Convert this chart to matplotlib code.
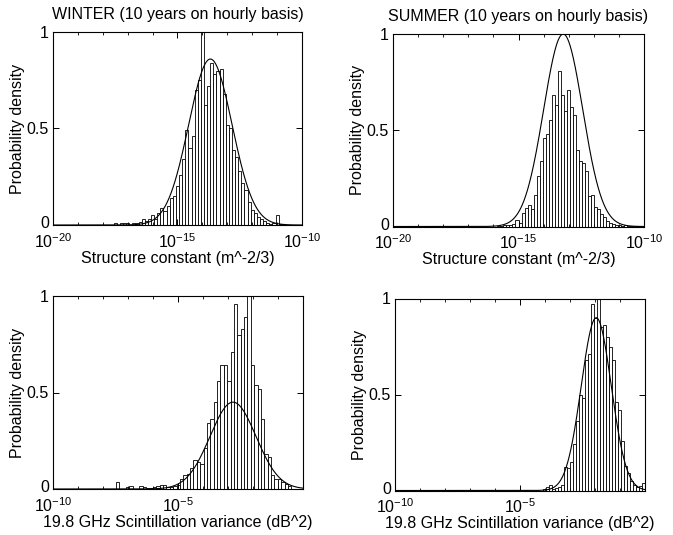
import numpy as np
import matplotlib
matplotlib.use("Agg")
import matplotlib.pyplot as plt
from matplotlib.ticker import FixedLocator, NullFormatter
from matplotlib.transforms import ScaledTranslation

plt.rcParams['font.family'] = ['Liberation Sans', 'DejaVu Sans']
plt.rcParams['mathtext.default'] = 'regular'

# ---------------- data (log10 bin centres start/step, bar heights, fitted gaussian) -------------
titles = ["WINTER (10 years on hourly basis)", "SUMMER (10 years on hourly basis)", "", ""]
xlabels = ["Structure constant (m^-2/3)", "Structure constant (m^-2/3)",
           "19.8 GHz Scintillation variance (dB^2)", "19.8 GHz Scintillation variance (dB^2)"]
ylabel = "Probability density"

# winter structure constant
w_cn_start, w_cn_step = -17.5, 0.125
w_cn_heights = [0.01, 0.0, 0.01, 0.008, 0.01, 0.0, 0.012, 0.01, 0.015, 0.03,
                0.02, 0.03, 0.05, 0.03, 0.06, 0.09, 0.07, 0.10, 0.14, 0.15,
                0.20, 0.26, 0.34, 0.49, 0.40, 0.46, 0.70, 0.75, 1.10, 0.62,
                0.72, 0.84, 0.78, 0.80, 0.81, 0.68, 0.52, 0.50, 0.39, 0.35,
                0.28, 0.22, 0.18, 0.12, 0.08, 0.06, 0.04, 0.03, 0.02, 0.01,
                0.005, 0.01, 0.05, 0.005]
w_cn_fit = (0.86, -13.68, 0.87)   # amplitude, mean(log10), sigma(log10)

# summer structure constant
s_cn_start, s_cn_step = -15.78, 0.12
s_cn_heights = [0.005, 0.005, 0.008, 0.01, 0.01, 0.015, 0.035, 0.02, 0.07, 0.096,
                0.11, 0.09, 0.165, 0.26, 0.34, 0.46, 0.48, 0.555, 0.685, 0.63,
                0.81, 0.685, 0.60, 0.71, 0.62, 0.58, 0.40, 0.34, 0.33, 0.29,
                0.16, 0.165, 0.10, 0.09, 0.065, 0.05, 0.03, 0.02, 0.015, 0.01,
                0.01, 0.005, 0.01, 0.005, 0.005, 0.005, 0.005]
s_cn_fit = (1.0, -13.22, 0.78)

# winter scintillation variance
w_sv_start, w_sv_step = -7.42, 0.135
w_sv_heights = [0.035, 0.0, 0.0, 0.01, 0.017, 0.0, 0.0, 0.017, 0.01, 0.005,
                0.005, 0.01, 0.015, 0.02, 0.02, 0.01, 0.01, 0.015, 0.02, 0.05,
                0.07, 0.08, 0.11, 0.15, 0.14, 0.13, 0.21, 0.34, 0.365, 0.45,
                0.56, 0.64, 0.64, 0.56, 0.71, 0.96, 0.80, 0.83, 0.89, 1.10,
                0.64, 0.54, 0.52, 0.365, 0.18, 0.165, 0.07, 0.05, 0.05, 0.035,
                0.025, 0.015]
w_sv_fit = (0.45, -2.8, 0.92)

# summer scintillation variance
s_sv_start, s_sv_step = -5.0, 0.12
s_sv_heights = [0.005, 0.0, 0.005, 0.0, 0.0, 0.0, 0.0, 0.0, 0.01, 0.02,
                0.03, 0.01, 0.015, 0.02, 0.03, 0.125, 0.115, 0.15, 0.24, 0.36,
                0.50, 0.48, 0.68, 0.71, 0.97, 0.90, 1.0, 0.85, 0.86, 0.80,
                0.75, 0.68, 0.46, 0.42, 0.26, 0.13, 0.09, 0.05, 0.03, 0.02,
                0.025, 0.04]
s_sv_fit = (0.9, -1.95, 0.6)

xlims_log = [(-20, -10), (-20, -10), (-10, 0), (-10, 0)]
xticks_log = [[-20, -15, -10], [-20, -15, -10], [-10, -5], [-10, -5]]
yticks = [0, 0.5, 1]
ytick_labels = ["0", "0.5", "1"]

panels = [
    (w_cn_start, w_cn_step, w_cn_heights, w_cn_fit),
    (s_cn_start, s_cn_step, s_cn_heights, s_cn_fit),
    (w_sv_start, w_sv_step, w_sv_heights, w_sv_fit),
    (s_sv_start, s_sv_step, s_sv_heights, s_sv_fit),
]

# ---------------- layout ----------------
W, H = 673, 535
rects_px = [(53, 32, 302, 225), (393, 34, 644, 226.5), (53, 296, 303, 489), (395, 298.5, 645, 490.5)]

fig = plt.figure(figsize=(W / 100, H / 100), dpi=100)
fig.patch.set_facecolor('white')

for k, (start, step, heights, fit) in enumerate(panels):
    l, t, r, b = rects_px[k]
    ax = fig.add_axes([l / W, 1 - b / H, (r - l) / W, (b - t) / H])
    ax.set_xscale('log')
    centres = start + step * np.arange(len(heights))
    left = 10.0 ** (centres - step / 2)
    right = 10.0 ** (centres + step / 2)
    ax.bar(left, heights, width=right - left, align='edge',
           facecolor='white', edgecolor='black', linewidth=0.6)
    lo, hi = xlims_log[k]
    xs = np.linspace(lo, hi, 800)
    A, mu, sg = fit
    ax.plot(10.0 ** xs, A * np.exp(-(xs - mu) ** 2 / (2 * sg ** 2)), color='black', lw=0.8)
    ax.set_xlim(10.0 ** lo, 10.0 ** hi)
    ax.set_ylim(0, 1)
    ax.set_xticks([10.0 ** v for v in xticks_log[k]])
    ax.set_xticklabels([r'$10^{%d}$' % v for v in xticks_log[k]])
    ax.xaxis.set_minor_locator(FixedLocator([10.0 ** v for v in range(lo, hi + 1)]))
    ax.xaxis.set_minor_formatter(NullFormatter())
    ax.set_yticks(yticks)
    ax.set_yticklabels(ytick_labels)
    ax.tick_params(which='both', direction='in', top=True, right=True, labelsize=11.5)
    ax.tick_params(axis='x', which='major', pad=5)
    ax.tick_params(axis='y', which='major', pad=3)
    ax.tick_params(which='major', length=4, width=0.7)
    ax.tick_params(which='minor', length=2.5, width=0.6)
    # lift the "0" label slightly, as in the original
    ylabs = ax.get_yticklabels()
    ylabs[0].set_transform(ylabs[0].get_transform() + ScaledTranslation(0, 3 / 100, fig.dpi_scale_trans))
    for sp in ax.spines.values():
        sp.set_linewidth(0.8)
    ax.set_xlabel(xlabels[k], fontsize=11.5, labelpad=0)
    ax.set_ylabel(ylabel, fontsize=11.5, labelpad=1)
    if titles[k]:
        ax.set_title(titles[k], fontsize=11.5, pad=9)

fig.savefig("out.png", dpi=100, facecolor='white')
